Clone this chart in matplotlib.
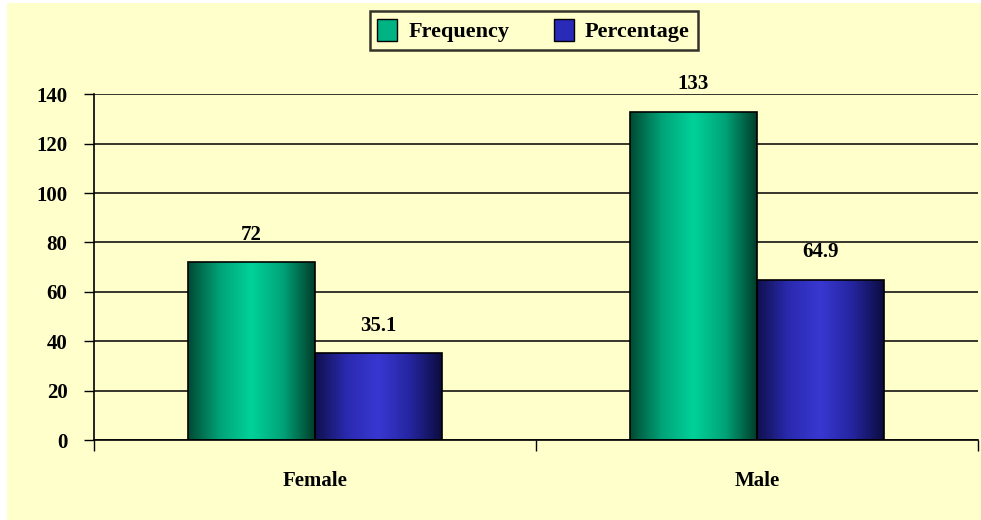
import matplotlib.pyplot as plt
import numpy as np
from matplotlib.colors import LinearSegmentedColormap
from matplotlib.patches import Patch, Rectangle

categories = ["Female", "Male"]
frequency = [72, 133]
percentage = [35.1, 64.9]
value_labels_freq = ["72", "133"]
value_labels_pct = ["35.1", "64.9"]

bg = "#FFFFCC"
green_map = LinearSegmentedColormap.from_list("g", ["#004a33", "#00a377", "#00d29a", "#00a377", "#003d2a"])
blue_map = LinearSegmentedColormap.from_list("b", ["#10104e", "#2a2ab0", "#3838d2", "#2525a0", "#0c0c40"])

plt.rcParams["font.family"] = "Liberation Serif"
plt.rcParams["font.weight"] = "bold"

fig = plt.figure(figsize=(9.81, 5.20), dpi=100, facecolor=bg)
# thin white strips on the left and top edge, like the original
fig.patches.append(Rectangle((0, 0), 7 / 981, 1, transform=fig.transFigure,
                             facecolor="white", edgecolor="none", zorder=-10))
fig.patches.append(Rectangle((0, 1 - 3 / 520), 1, 3 / 520, transform=fig.transFigure,
                             facecolor="white", edgecolor="none", zorder=-10))
ax = fig.add_axes([0.0958, 0.1538, 0.901, 0.665])
ax.set_facecolor(bg)

bar_w = 0.287
x_pos = np.arange(len(categories))
grad = np.linspace(0, 1, 256).reshape(1, -1)


def gradient_bars(xs, heights, cmap):
    bars = ax.bar(xs, heights, width=bar_w, color="none", edgecolor="black", linewidth=1.2, zorder=3)
    for rect in bars:
        x0, w, h = rect.get_x(), rect.get_width(), rect.get_height()
        im = ax.imshow(grad, cmap=cmap, aspect="auto", extent=[x0, x0 + w, 0, h], zorder=2)
        im.set_clip_path(rect)
    return bars


b1 = gradient_bars(x_pos - bar_w / 2, frequency, green_map)
b2 = gradient_bars(x_pos + bar_w / 2, percentage, blue_map)

for rect, t in zip(list(b1) + list(b2), value_labels_freq + value_labels_pct):
    ax.text(rect.get_x() + rect.get_width() / 2, rect.get_height() + 7, t,
            ha="center", va="bottom", fontsize=15, fontweight="bold")

ax.set_xlim(-0.5, 1.5)
ax.set_ylim(0, 140)
ax.set_yticks(np.arange(0, 141, 20))
ax.yaxis.grid(True, color="black", linewidth=1.1, zorder=0)
ax.set_axisbelow(True)
ax.set_xticks([-0.5, 0.5, 1.5], minor=False)
ax.set_xticklabels([])
ax.set_xticks(x_pos, minor=True)
ax.set_xticklabels(categories, minor=True, fontsize=15, fontweight="bold")
ax.tick_params(axis="x", which="major", length=8, width=1, direction="out")
ax.tick_params(axis="x", which="minor", length=0, pad=22)
ax.tick_params(axis="y", length=7, width=1, direction="out", labelsize=15, pad=12)
for lbl in ax.get_yticklabels():
    lbl.set_fontweight("bold")
for s in ["top", "right"]:
    ax.spines[s].set_visible(False)
ax.spines["left"].set_linewidth(1.2)
ax.spines["bottom"].set_linewidth(1.2)

handles = [Patch(facecolor="#00b383", edgecolor="black", label="Frequency"),
           Patch(facecolor="#2a2ab8", edgecolor="black", label="Percentage")]
leg = fig.legend(handles=handles, loc="upper center", bbox_to_anchor=(0.544, 0.978), ncol=2,
                 frameon=True, fancybox=False, handlelength=0.9, handleheight=1.1,
                 handletextpad=0.5, columnspacing=2.0, borderpad=0.35, borderaxespad=0,
                 prop={"weight": "bold", "size": 16})
leg.get_frame().set_edgecolor("black")
leg.get_frame().set_linewidth(1.8)
leg.get_frame().set_facecolor(bg)

fig.savefig("out.png", dpi=100, facecolor=bg)
